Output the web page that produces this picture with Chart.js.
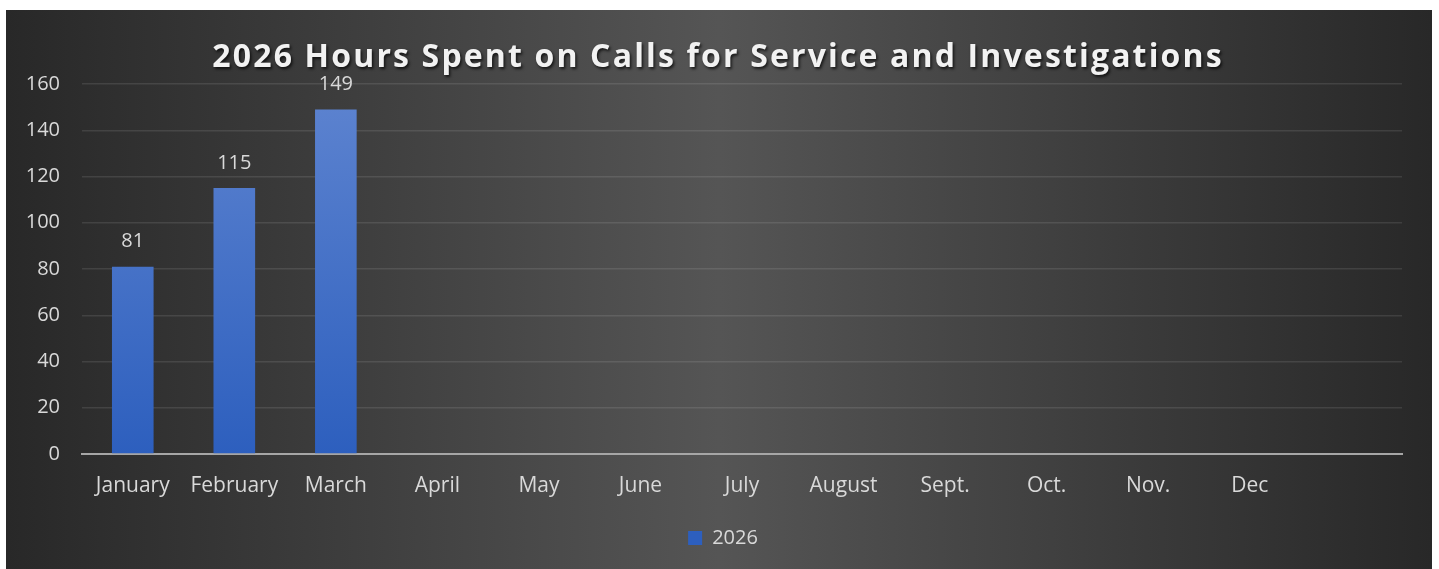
<!DOCTYPE html>
<html>
<head>
<meta charset="utf-8">
<script src="https://cdn.jsdelivr.net/npm/chart.js"></script>
<style>
  body { margin: 0; background: #fff; }
  #panel {
    position: absolute; left: 6px; top: 10px; width: 1426px; height: 559px;
    background: linear-gradient(to right, #282828 0%, #555555 50%, #282828 100%);
  }
</style>
</head>
<body>
<div id="panel"><canvas id="hoursChart"></canvas></div>
<script>
const months = ["January", "February", "March", "April", "May", "June", "July", "August", "Sept.", "Oct.", "Nov.", "Dec", ""];
const hours2026 = [81, 115, 149, null, null, null, null, null, null, null, null, null, null];
const chartTitle = "2026 Hours Spent on Calls for Service and Investigations";
const seriesName = "2026";

const textColor = "#d9d9d9";
const fontFamily = "'Open Sans', sans-serif";

function barGradient(context) {
  const chart = context.chart;
  const area = chart.chartArea;
  if (!area) return "#4472c4";
  const g = chart.ctx.createLinearGradient(0, area.top, 0, area.bottom);
  g.addColorStop(0, "#5e84d0");
  g.addColorStop(1, "#2d5fbe");
  return g;
}

// title drawn by hand so it can get letter spacing and a shadow
const titlePlugin = {
  id: "spacedTitle",
  afterDraw(chart) {
    const ctx = chart.ctx;
    ctx.save();
    ctx.font = "bold 32px " + fontFamily;
    ctx.letterSpacing = "0px";
    const w = ctx.measureText(chartTitle).width;
    const spacing = Math.max(0, (1009 - w) / (chartTitle.length - 1));
    ctx.letterSpacing = spacing.toFixed(2) + "px";
    ctx.fillStyle = "#f2f2f2";
    ctx.textAlign = "center";
    ctx.textBaseline = "alphabetic";
    ctx.shadowColor = "rgba(0,0,0,0.7)";
    ctx.shadowBlur = 3;
    ctx.shadowOffsetX = 1.5;
    ctx.shadowOffsetY = 1.5;
    ctx.fillText(chartTitle, 711 + spacing / 2, 57);
    ctx.restore();
  }
};

const valueLabels = {
  id: "valueLabels",
  afterDatasetsDraw(chart) {
    const ctx = chart.ctx;
    const meta = chart.getDatasetMeta(0);
    ctx.save();
    ctx.font = "20px " + fontFamily;
    ctx.fillStyle = textColor;
    ctx.textAlign = "center";
    ctx.textBaseline = "middle";
    meta.data.forEach((bar, i) => {
      const v = hours2026[i];
      if (v === null) return;
      ctx.fillText(String(v), bar.x, bar.y - 25);
    });
    ctx.restore();
  }
};

// legend sits centred on the whole panel, not on the padded area
const legendShift = {
  id: "legendShift",
  afterLayout(chart) {
    chart.legend.left += 19;
    chart.legend.right += 19;
  }
};

new Chart(document.getElementById("hoursChart"), {
  type: "bar",
  data: {
    labels: months,
    datasets: [{
      label: seriesName,
      data: hours2026,
      backgroundColor: barGradient,
      borderWidth: 0,
      categoryPercentage: 1,
      barPercentage: 0.41
    }]
  },
  options: {
    responsive: true,
    maintainAspectRatio: false,
    animation: false,
    layout: { padding: { top: 74, right: 30, left: 0, bottom: 11 } },
    plugins: {
      title: { display: false },
      tooltip: { enabled: false },
      legend: {
        position: "bottom",
        labels: {
          color: textColor,
          boxWidth: 14,
          boxHeight: 14,
          padding: 10,
          font: { family: fontFamily, size: 20 }
        }
      }
    },
    scales: {
      x: {
        grid: { display: false, drawTicks: false },
        border: { display: true, color: "#a6a6a6", width: 2 },
        ticks: {
          color: textColor,
          padding: 19,
          maxRotation: 0,
          autoSkip: false,
          font: { family: fontFamily, size: 21 }
        },
        afterFit(scale) { scale.height = 64; }
      },
      y: {
        min: 0,
        max: 160,
        ticks: {
          stepSize: 20,
          color: textColor,
          padding: 22,
          font: { family: fontFamily, size: 20 }
        },
        grid: { color: "rgba(255,255,255,0.10)", lineWidth: 1.5, drawTicks: false },
        border: { display: false },
        afterFit(scale) { scale.width = 76; }
      }
    }
  },
  plugins: [titlePlugin, valueLabels, legendShift]
});
</script>
</body>
</html>
